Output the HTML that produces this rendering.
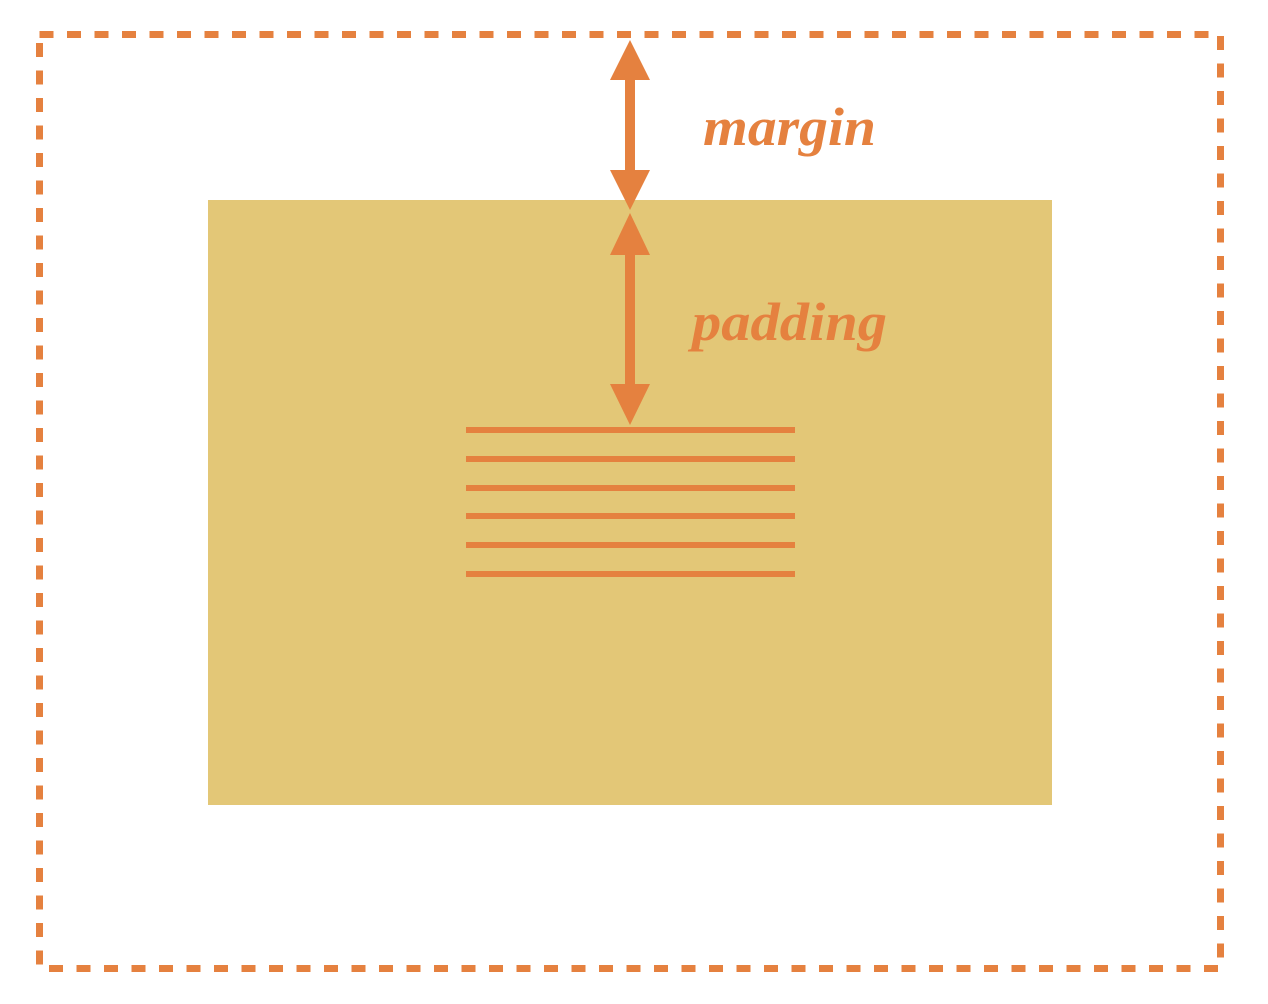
<!DOCTYPE html>
<html><head><meta charset="utf-8"><style>
html,body{margin:0;padding:0;background:#fff;}
svg{display:block;}
text{font-family:"Liberation Serif","DejaVu Serif",serif;font-style:italic;font-weight:bold;fill:#e5813f;}
</style></head><body>
<svg width="1268" height="1004" viewBox="0 0 1268 1004">
  <rect x="39.5" y="34.5" width="1181" height="934" fill="none" stroke="#e5813f" stroke-width="7" stroke-dasharray="14 13.5"/>
  <rect x="208" y="200" width="844" height="605" fill="#e3c777"/>
  <g fill="#e5813f">
    <rect x="625" y="75" width="10" height="100"/>
    <polygon points="630,40 650,80 610,80"/>
    <polygon points="630,210 650,170 610,170"/>
  </g>
  <g fill="#e5813f">
    <rect x="625" y="250" width="10" height="140"/>
    <polygon points="630,213 650,255 610,255"/>
    <polygon points="630,425 650,384 610,384"/>
  </g>
  <g fill="#e5813f">
    <rect x="466" y="427" width="329" height="6"/>
    <rect x="466" y="456" width="329" height="6"/>
    <rect x="466" y="485" width="329" height="6"/>
    <rect x="466" y="513" width="329" height="6"/>
    <rect x="466" y="542" width="329" height="6"/>
    <rect x="466" y="571" width="329" height="6"/>
  </g>
  <text x="703" y="145" font-size="54" textLength="173" lengthAdjust="spacingAndGlyphs">margin</text>
  <text x="692" y="340" font-size="54" textLength="195" lengthAdjust="spacingAndGlyphs">padding</text>
</svg>
</body></html>
